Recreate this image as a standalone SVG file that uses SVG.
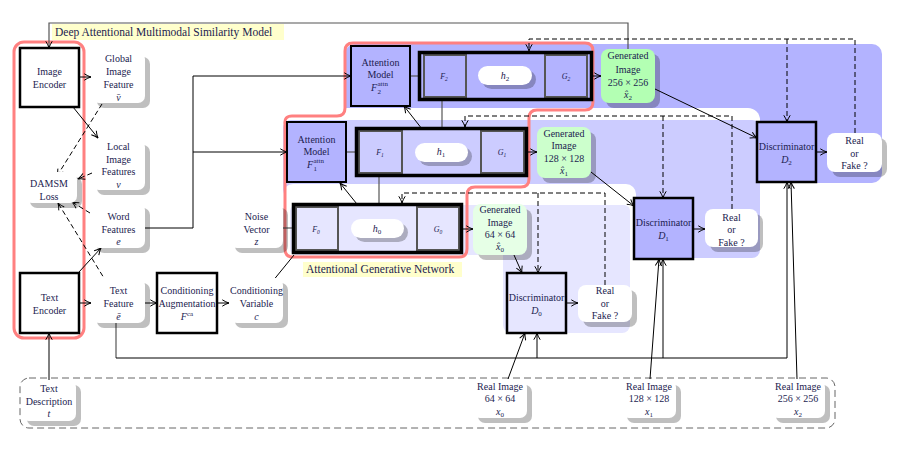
<svg xmlns="http://www.w3.org/2000/svg" width="900" height="450" viewBox="0 0 900 450">
<defs>
<marker id="a" viewBox="0 0 8 8" refX="7.5" refY="4" markerWidth="8" markerHeight="8" orient="auto" markerUnits="userSpaceOnUse"><path d="M0.8,0.8 Q4.5,3.2 7.5,4 Q4.5,4.8 0.8,7.2" fill="none" stroke="#000" stroke-width="1"/></marker>
<style>
.t{font-family:"Liberation Serif","Times New Roman",serif;font-size:10px;fill:#1c1c50;text-anchor:middle}
.m{font-style:italic}
.s8{font-size:8px}
.sup{font-size:7px;text-anchor:start}
.end{text-anchor:end}
.lab{font-family:"Liberation Serif","Times New Roman",serif;font-size:11.5px;fill:#1c1c50}
.sh{fill:#000;fill-opacity:.25}
.wb{fill:#fff}
.c{fill:none;stroke:#000;stroke-width:1}
.g{fill:none;stroke:#555;stroke-width:1.2}
.d{fill:none;stroke:#000;stroke-width:1;stroke-dasharray:5,3}
.ar{marker-end:url(#a)}
.box{stroke:#000;stroke-width:2.5}
.outer{fill:none;stroke:#000;stroke-width:3.5}
.inner{stroke:#555;stroke-width:2}
</style>
</defs>

<g id="panels">
<rect x="345" y="44" width="537" height="139" rx="10" fill="#b3b3ff"/>
<rect x="278" y="108" width="482" height="155" rx="12" fill="#fff"/>
<rect x="283" y="120" width="477" height="138" rx="8" fill="#ccccff"/>
<rect x="283" y="184" width="353" height="154" rx="10" fill="#fff"/>
<rect x="290" y="205" width="340" height="50" rx="6" fill="#e6e6ff"/>
<rect x="503" y="205" width="127" height="128" rx="8" fill="#e6e6ff"/>
</g>

<g id="outlines">
<rect x="14" y="42" width="70" height="296" rx="10" fill="none" stroke="#ff8080" stroke-width="3"/>
<path d="M353,43 H585 Q593,43 593,51 V102 Q593,110 585,110 H537 Q529,110 529,118 V179 Q529,187 521,187 H475 Q467,187 467,195 V249 Q467,257 459,257 H293 Q285,257 285,249 V124 Q284,116 292,116 H337 Q345,116 345,108 V51 Q345,43 353,43 Z" fill="none" stroke="#ff8080" stroke-width="3"/>
<rect x="20" y="378" width="815" height="50" rx="9" fill="none" stroke="#666" stroke-width="1" stroke-dasharray="7,4"/>
</g>

<g id="connectors">
<path class="g ar" d="M628,49 V23 H49 V48"/>
<path class="c ar" d="M79,77 H91"/>
<path class="c ar" d="M73,107 L98,138"/>
<path class="d ar" d="M102,104 L57,176"/>
<path class="d ar" d="M92,173 L78,179"/>
<path class="d ar" d="M90,213 L72,202"/>
<path class="d ar" d="M107,283 L58,203"/>
<path class="c ar" d="M79,272 L101,248"/>
<path class="c ar" d="M79,303 H91"/>
<path class="c ar" d="M145,303 H157"/>
<path class="c ar" d="M217,303 H229"/>
<path class="c ar" d="M49,380 V333"/>
<path class="c" d="M145,228 H193 V76"/>
<path class="c ar" d="M193,76 H351"/>
<path class="c ar" d="M193,152 H287"/>
<path class="g" d="M410,76 H419"/>
<path class="g" d="M346,152 H356"/>
<path class="g" d="M283,228 H293"/>
<path class="c" d="M272,282 L294,255"/>
<path class="c ar" d="M593,76 H601"/>
<path class="c ar" d="M528,152 H537"/>
<path class="c ar" d="M463,229 H473"/>
<path class="c ar" d="M466,76 H478"/>
<path class="c ar" d="M532,76 H544"/>
<path class="c ar" d="M402,152 H415"/>
<path class="c ar" d="M468,152 H481"/>
<path class="c ar" d="M338,229 H351"/>
<path class="c ar" d="M404,229 H417"/>
<path class="g" d="M442,143 V101"/>
<path class="c ar" d="M433,143 L404,106"/>
<path class="g" d="M379,219 V177"/>
<path class="c ar" d="M369,219 L340,183"/>
<path class="c ar" d="M655,89 L757,138"/>
<path class="c ar" d="M591,172 L634,206"/>
<path class="c ar" d="M514,255 L522,273"/>
<path class="c ar" d="M816,152 H827"/>
<path class="c ar" d="M693,229 H705"/>
<path class="c ar" d="M566,303 H578"/>
<path class="d ar" d="M855,133 V39 H529 V51"/>
<path class="d ar" d="M787,39 V122"/>
<path class="d ar" d="M732,209 V116 H465 V127"/>
<path class="d ar" d="M663,116 V198"/>
<path class="d ar" d="M605,285 V193 H402 V203"/>
<path class="d ar" d="M538,193 V273"/>
<path class="g" d="M116,323 V358"/>
<path class="c" d="M116,358 H787"/>
<path class="c ar" d="M537,358 V333"/>
<path class="c ar" d="M663,358 V259"/>
<path class="c ar" d="M787,358 V182"/>
<path class="c ar" d="M508,379 L525,333"/>
<path class="c ar" d="M650,379 L659,259"/>
<path class="c ar" d="M797,379 L791,182"/>
</g>

<g id="dam-label">
<rect x="52" y="24" width="232" height="16" fill="#ffffcc"/>
<text class="lab" x="55" y="36">Deep Attentional Multimodal Similarity Model</text>
</g>
<g id="agn-label">
<rect x="303" y="262" width="159" height="15" fill="#ffffcc"/>
<text class="lab" x="306" y="273">Attentional Generative Network</text>
</g>

<g id="image-encoder">
<rect class="box" x="20" y="48" width="59" height="59" fill="#fff"/>
<text class="t" x="49.5" y="74.5">Image</text>
<text class="t" x="49.5" y="87.5">Encoder</text>
</g>
<g id="text-encoder">
<rect class="box" x="20" y="273" width="59" height="60" fill="#fff"/>
<text class="t" x="49.5" y="300.5">Text</text>
<text class="t" x="49.5" y="313.5">Encoder</text>
</g>

<g id="global-feature">
<rect class="sh" x="97" y="57" width="53" height="51" rx="7"/>
<rect class="wb" x="92" y="52" width="53" height="51" rx="7"/>
<text class="t" x="118.5" y="61.5">Global</text>
<text class="t" x="118.5" y="74.5">Image</text>
<text class="t" x="118.5" y="87.5">Feature</text>
<text class="t m" x="118.5" y="100.5">v̄</text>
</g>
<g id="local-features">
<rect class="sh" x="97" y="145" width="53" height="50" rx="7"/>
<rect class="wb" x="92" y="140" width="53" height="50" rx="7"/>
<text class="t" x="118.5" y="149.5">Local</text>
<text class="t" x="118.5" y="162.5">Image</text>
<text class="t" x="118.5" y="174.5">Features</text>
<text class="t m" x="118.5" y="187.5">v</text>
</g>
<g id="damsm-loss">
<rect class="sh" x="30" y="177" width="52" height="31" rx="7"/>
<rect class="wb" x="25" y="172" width="52" height="31" rx="7"/>
<text class="t" x="49" y="186.5">DAMSM</text>
<text class="t" x="49" y="199.5">Loss</text>
</g>
<g id="word-features">
<rect class="sh" x="97" y="208" width="53" height="45" rx="7"/>
<rect class="wb" x="92" y="203" width="53" height="45" rx="7"/>
<text class="t" x="118.5" y="219.5">Word</text>
<text class="t" x="118.5" y="232.5">Features</text>
<text class="t m" x="118.5" y="244.5">e</text>
</g>
<g id="text-feature">
<rect class="sh" x="97" y="283" width="53" height="45" rx="7"/>
<rect class="wb" x="92" y="278" width="53" height="45" rx="7"/>
<text class="t" x="118.5" y="293.5">Text</text>
<text class="t" x="118.5" y="306.5">Feature</text>
<text class="t m" x="118.5" y="319.5">ē</text>
</g>
<g id="cond-aug">
<rect class="box" x="157" y="273" width="60" height="60" fill="#fff"/>
<text class="t" x="187" y="293.5">Conditioning</text>
<text class="t" x="187" y="306.5">Augmentation</text>
<text class="t" x="187" y="319.5"><tspan class="m">F</tspan><tspan font-size="7" dy="-4">ca</tspan></text>
</g>
<g id="cond-var">
<rect class="sh" x="235" y="283" width="53" height="45" rx="7"/>
<rect class="wb" x="230" y="278" width="53" height="45" rx="7"/>
<text class="t" x="256.5" y="293.5">Conditioning</text>
<text class="t" x="256.5" y="306.5">Variable</text>
<text class="t m" x="256.5" y="319.5">c</text>
</g>
<g id="noise-vector">
<rect class="sh" x="235" y="208" width="53" height="45" rx="7"/>
<rect class="wb" x="230" y="203" width="53" height="45" rx="7"/>
<text class="t" x="256.5" y="219.5">Noise</text>
<text class="t" x="256.5" y="232.5">Vector</text>
<text class="t m" x="256.5" y="244.5">z</text>
</g>
<g id="text-description">
<rect class="sh" x="27" y="385" width="54" height="41" rx="7"/>
<rect class="wb" x="22" y="380" width="54" height="41" rx="7"/>
<text class="t" x="49" y="391.5">Text</text>
<text class="t" x="49" y="404.5">Description</text>
<text class="t m" x="49" y="416.5">t</text>
</g>

<g id="attention-f2">
<rect x="351" y="46" width="59" height="60" fill="#b3b3ff" stroke="#000" stroke-width="2"/>
<text class="t" x="380.5" y="65.5">Attention</text>
<text class="t" x="380.5" y="77.5">Model</text>
<text class="t m end" x="377" y="91">F</text>
<text class="t sup" x="377.5" y="86">attn</text>
<text class="t sup" x="377.5" y="94">2</text>
</g>
<g id="attention-f1">
<rect x="287" y="122" width="59" height="60" fill="#b3b3ff" stroke="#000" stroke-width="2"/>
<text class="t" x="316.5" y="142.5">Attention</text>
<text class="t" x="316.5" y="154.5">Model</text>
<text class="t m end" x="313" y="168">F</text>
<text class="t sup" x="313.5" y="163">attn</text>
<text class="t sup" x="313.5" y="171">1</text>
</g>

<g id="stage2">
<rect x="419.5" y="52.5" width="172" height="47" fill="#b3b3ff"/>
<rect class="inner" x="424" y="55" width="42" height="42" fill="#b3b3ff"/>
<rect class="inner" x="545" y="55" width="42" height="42" fill="#b3b3ff"/>
<rect class="outer" x="419.5" y="52.5" width="172" height="47"/>
<rect class="sh" x="482" y="70" width="54" height="19" rx="9.5"/>
<rect class="wb" x="478" y="66" width="54" height="19" rx="9.5"/>
<text class="t m s8" x="444" y="79">F<tspan font-size="5.5" dy="1.5">2</tspan></text>
<text class="t m s8" x="566" y="79">G<tspan font-size="5.5" dy="1.5">2</tspan></text>
<text class="t m" x="505" y="79">h<tspan font-size="7" dy="2" font-style="normal">2</tspan></text>
</g>
<g id="stage1">
<rect x="356.5" y="128.5" width="170" height="47" fill="#ccccff"/>
<rect class="inner" x="359" y="131" width="43" height="42" fill="#ccccff"/>
<rect class="inner" x="481" y="131" width="43" height="42" fill="#ccccff"/>
<rect class="outer" x="356.5" y="128.5" width="170" height="47"/>
<rect class="sh" x="419" y="147" width="53" height="19" rx="9.5"/>
<rect class="wb" x="415" y="143" width="53" height="19" rx="9.5"/>
<text class="t m s8" x="380" y="155">F<tspan font-size="5.5" dy="1.5">1</tspan></text>
<text class="t m s8" x="502" y="155">G<tspan font-size="5.5" dy="1.5">1</tspan></text>
<text class="t m" x="441" y="155">h<tspan font-size="7" dy="2" font-style="normal">1</tspan></text>
</g>
<g id="stage0">
<rect x="293.5" y="204.5" width="168" height="48" fill="#e6e6ff"/>
<rect class="inner" x="296" y="207" width="42" height="43" fill="#e6e6ff"/>
<rect class="inner" x="417" y="207" width="42" height="43" fill="#e6e6ff"/>
<rect class="outer" x="293.5" y="204.5" width="168" height="48"/>
<rect class="sh" x="355" y="223" width="53" height="19" rx="9.5"/>
<rect class="wb" x="351" y="219" width="53" height="19" rx="9.5"/>
<text class="t m s8" x="316" y="232">F<tspan font-size="5.5" dy="1.5">0</tspan></text>
<text class="t m s8" x="438" y="232">G<tspan font-size="5.5" dy="1.5">0</tspan></text>
<text class="t m" x="377" y="232">h<tspan font-size="7" dy="2" font-style="normal">0</tspan></text>
</g>

<g id="gen-image-2">
<rect class="sh" x="606" y="54" width="54" height="54" rx="8"/>
<rect x="601" y="49" width="54" height="54" rx="8" fill="#b3ffb3"/>
<text class="t" x="628" y="58.5">Generated</text>
<text class="t" x="628" y="72.5">Image</text>
<text class="t" x="628" y="85.5">256 × 256</text>
<text class="t" x="628" y="97.5"><tspan class="m">x̂</tspan><tspan font-size="7" dy="2">2</tspan></text>
</g>
<g id="gen-image-1">
<rect class="sh" x="542" y="132" width="54" height="51" rx="8"/>
<rect x="537" y="127" width="54" height="51" rx="8" fill="#ccffcc"/>
<text class="t" x="564" y="136.5">Generated</text>
<text class="t" x="564" y="149">Image</text>
<text class="t" x="564" y="161.5">128 × 128</text>
<text class="t" x="564" y="174"><tspan class="m">x̂</tspan><tspan font-size="7" dy="2">1</tspan></text>
</g>
<g id="gen-image-0">
<rect class="sh" x="478" y="209" width="54" height="51" rx="8"/>
<rect x="473" y="204" width="54" height="51" rx="8" fill="#e6ffe6"/>
<text class="t" x="500" y="212.5">Generated</text>
<text class="t" x="500" y="225.5">Image</text>
<text class="t" x="500" y="237.5">64 × 64</text>
<text class="t" x="500" y="249.5"><tspan class="m">x̂</tspan><tspan font-size="7" dy="2">0</tspan></text>
</g>

<g id="disc-2">
<rect class="box" x="757" y="122" width="59" height="60" fill="#b3b3ff"/>
<text class="t" x="786.5" y="149.5">Discriminator</text>
<text class="t m" x="786.5" y="162.5">D<tspan font-size="7" dy="2" font-style="normal">2</tspan></text>
</g>
<g id="disc-1">
<rect class="box" x="634" y="198" width="59" height="61" fill="#b3b3ff"/>
<text class="t" x="663.5" y="225.5">Discriminator</text>
<text class="t m" x="663.5" y="238.5">D<tspan font-size="7" dy="2" font-style="normal">1</tspan></text>
</g>
<g id="disc-0">
<rect class="box" x="507" y="273" width="59" height="60" fill="#e6e6ff"/>
<text class="t" x="536.5" y="300.5">Discriminator</text>
<text class="t m" x="536.5" y="313.5">D<tspan font-size="7" dy="2" font-style="normal">0</tspan></text>
</g>

<g id="real-fake-2">
<rect class="sh" x="832" y="138" width="55" height="39" rx="8"/>
<rect class="wb" x="827" y="133" width="55" height="39" rx="8"/>
<text class="t" x="854.5" y="143.5">Real</text>
<text class="t" x="854.5" y="156.5">or</text>
<text class="t" x="854.5" y="168.5">Fake ?</text>
</g>
<g id="real-fake-1">
<rect class="sh" x="710" y="214" width="53" height="38" rx="8"/>
<rect class="wb" x="705" y="209" width="53" height="38" rx="8"/>
<text class="t" x="731.5" y="220.5">Real</text>
<text class="t" x="731.5" y="232.5">or</text>
<text class="t" x="731.5" y="245.5">Fake ?</text>
</g>
<g id="real-fake-0">
<rect class="sh" x="583" y="290" width="54" height="37" rx="8"/>
<rect class="wb" x="578" y="285" width="54" height="37" rx="8"/>
<text class="t" x="605" y="293.5">Real</text>
<text class="t" x="605" y="306.5">or</text>
<text class="t" x="605" y="318.5">Fake ?</text>
</g>

<g id="real-image-0">
<rect class="sh" x="478" y="385" width="54" height="38" rx="7"/>
<rect class="wb" x="473" y="380" width="54" height="38" rx="7"/>
<text class="t" x="500" y="389.5">Real Image</text>
<text class="t" x="500" y="401.5">64 × 64</text>
<text class="t" x="500" y="414.5"><tspan class="m">x</tspan><tspan font-size="7" dy="2">0</tspan></text>
</g>
<g id="real-image-1">
<rect class="sh" x="627" y="385" width="54" height="38" rx="7"/>
<rect class="wb" x="622" y="380" width="54" height="38" rx="7"/>
<text class="t" x="649" y="389.5">Real Image</text>
<text class="t" x="649" y="401.5">128 × 128</text>
<text class="t" x="649" y="414.5"><tspan class="m">x</tspan><tspan font-size="7" dy="2">1</tspan></text>
</g>
<g id="real-image-2">
<rect class="sh" x="776" y="385" width="54" height="38" rx="7"/>
<rect class="wb" x="771" y="380" width="54" height="38" rx="7"/>
<text class="t" x="798" y="389.5">Real Image</text>
<text class="t" x="798" y="401.5">256 × 256</text>
<text class="t" x="798" y="414.5"><tspan class="m">x</tspan><tspan font-size="7" dy="2">2</tspan></text>
</g>
</svg>
